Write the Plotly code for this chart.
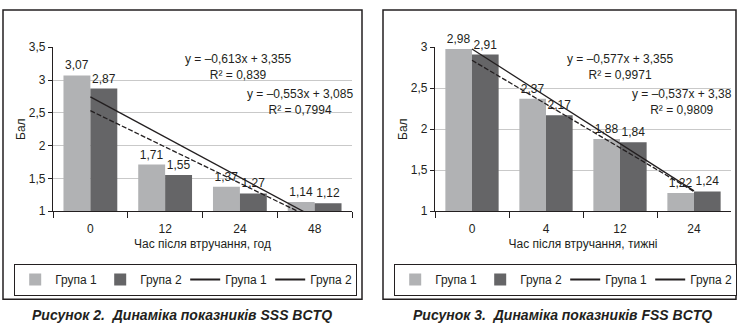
import numpy as np
import plotly.graph_objects as go

W, H = 746, 336

# ---- data: SSS BCTQ (left) ----
cats_sss = ["0", "12", "24", "48"]
sss_g1 = [3.07, 1.71, 1.37, 1.14]
sss_g2 = [2.87, 1.55, 1.27, 1.12]
sss_eq = ["y = –0,613x + 3,355", "y = –0,553x + 3,085"]
sss_r2 = ["R² = 0,839", "R² = 0,7994"]
sss_xtitle = "Час після втручання, год"
sss_caption = "Рисунок 2.  Динаміка показників SSS BCTQ"

# ---- data: FSS BCTQ (right) ----
cats_fss = ["0", "4", "12", "24"]
fss_g1 = [2.98, 2.37, 1.88, 1.22]
fss_g2 = [2.91, 2.17, 1.84, 1.24]
fss_eq = ["y = –0,577x + 3,355", "y = –0,537x + 3,38"]
fss_r2 = ["R² = 0,9971", "R² = 0,9809"]
fss_xtitle = "Час після втручання, тижні"
fss_caption = "Рисунок 3.  Динаміка показників FSS BCTQ"

series_names = ["Група 1", "Група 2"]

INK = "#231f20"
LIGHT = "#b1b2b4"
DARK = "#656567"
GRID = "#c9c9c9"
FONT = "Liberation Sans, Arial, sans-serif"


def px(x):
    return x / W


def py(y):
    return 1 - y / H


def trend(vals):
    n = np.arange(1, len(vals) + 1)
    k, b = np.polyfit(n, vals, 1)
    return k * n + b


fig = go.Figure()


def add_panel(cats, g1, g2, xa, ya, leg):
    for name, vals, col in ((series_names[0], g1, LIGHT), (series_names[1], g2, DARK)):
        fig.add_trace(go.Bar(
            x=cats, y=vals, name=name, marker=dict(color=col, line=dict(width=0)),
            texttemplate="%{y:.2f}", textposition="outside", cliponaxis=False,
            textfont=dict(size=12, color=INK, family=FONT),
            xaxis=xa, yaxis=ya, legend=leg,
        ))
    # legend entries for trend lines (both shown solid in the original legend)
    for name in series_names:
        fig.add_trace(go.Scatter(
            x=[None], y=[None], mode="lines", name=name,
            line=dict(color=INK, width=2), xaxis=xa, yaxis=ya, legend=leg,
        ))
    fig.add_trace(go.Scatter(
        x=cats, y=trend(g1), mode="lines", showlegend=False,
        line=dict(color=INK, width=1.3), xaxis=xa, yaxis=ya, hoverinfo="skip",
    ))
    fig.add_trace(go.Scatter(
        x=cats, y=trend(g2), mode="lines", showlegend=False,
        line=dict(color=INK, width=1.3, dash="5px,2px"), xaxis=xa, yaxis=ya, hoverinfo="skip",
    ))


add_panel(cats_sss, sss_g1, sss_g2, "x", "y", "legend")
add_panel(cats_fss, fss_g1, fss_g2, "x2", "y2", "legend2")

axis_font = dict(size=12, color=INK, family=FONT)


def xaxis(domain, anchor, title):
    return dict(
        domain=domain, anchor=anchor, type="category",
        showline=True, linecolor=INK, linewidth=1.2,
        ticks="outside", tickson="boundaries", ticklen=6, tickcolor=INK, tickwidth=1.2,
        ticklabelstandoff=6,
        tickfont=axis_font, showgrid=False, fixedrange=True,
        title=dict(text=title, font=axis_font, standoff=4),
    )


def yaxis(domain, anchor, rng):
    return dict(
        domain=domain, anchor=anchor, range=rng, dtick=0.5, tick0=1,
        showline=True, linecolor=INK, linewidth=1.2,
        ticks="outside", ticklen=4, tickcolor=INK, tickwidth=1.2,
        tickfont=axis_font, showgrid=True, gridcolor=GRID, gridwidth=1,
        zeroline=False, fixedrange=True,
        title=dict(text="Бал", font=axis_font, standoff=0),
    )


ydom = [py(213), py(42)]

annotations = []


def eq_ann(xc, y, eq, r2):
    annotations.append(dict(
        x=px(xc), y=py(y), xref="paper", yref="paper", text=eq + "<br>" + r2,
        showarrow=False, align="center",
        xanchor="center", yanchor="middle", font=dict(size=12, color=INK, family=FONT),
    ))


eq_ann(238, 63, sss_eq[0], sss_r2[0])
eq_ann(300, 99, sss_eq[1], sss_r2[1])
eq_ann(620, 63, fss_eq[0], fss_r2[0])
eq_ann(682, 99, fss_eq[1], fss_r2[1])

for xc, text in ((182, sss_caption), (562, fss_caption)):
    annotations.append(dict(
        x=px(xc), y=py(321), xref="paper", yref="paper", text="<b><i>" + text + "</i></b>",
        showarrow=False, xanchor="center", yanchor="middle",
        font=dict(size=14, color=INK, family=FONT),
    ))

shapes = [
    dict(type="rect", xref="paper", yref="paper", x0=px(3), x1=px(362), y0=py(305), y1=py(3),
         line=dict(color=INK, width=1.5), layer="below"),
    dict(type="rect", xref="paper", yref="paper", x0=px(383), x1=px(736), y0=py(305), y1=py(3),
         line=dict(color=INK, width=1.5), layer="below"),
]

legend_common = dict(
    orientation="h", xanchor="left", yanchor="top", bgcolor="white",
    bordercolor=INK, borderwidth=1.2, font=dict(size=12, color=INK, family=FONT),
    itemwidth=30, traceorder="normal", entrywidth=40, entrywidthmode="pixels",
)

fig.update_layout(
    width=W, height=H, autosize=False,
    margin=dict(l=0, r=0, t=0, b=0),
    paper_bgcolor="white", plot_bgcolor="white",
    separators=", ",
    font=dict(family=FONT, color=INK, size=12),
    barmode="group", bargap=0.28, bargroupgap=0,
    xaxis=xaxis([px(53), px(352)], "y", sss_xtitle),
    yaxis=yaxis(ydom, "x", [1, 3.5]),
    xaxis2=xaxis([px(435), px(731)], "y2", fss_xtitle),
    yaxis2=yaxis(ydom, "x2", [1, 3]),
    legend=dict(x=px(14), y=py(268), **legend_common),
    legend2=dict(x=px(394), y=py(268), **legend_common),
    annotations=annotations,
    shapes=shapes,
    showlegend=True,
)

fig.write_html("out.html")
